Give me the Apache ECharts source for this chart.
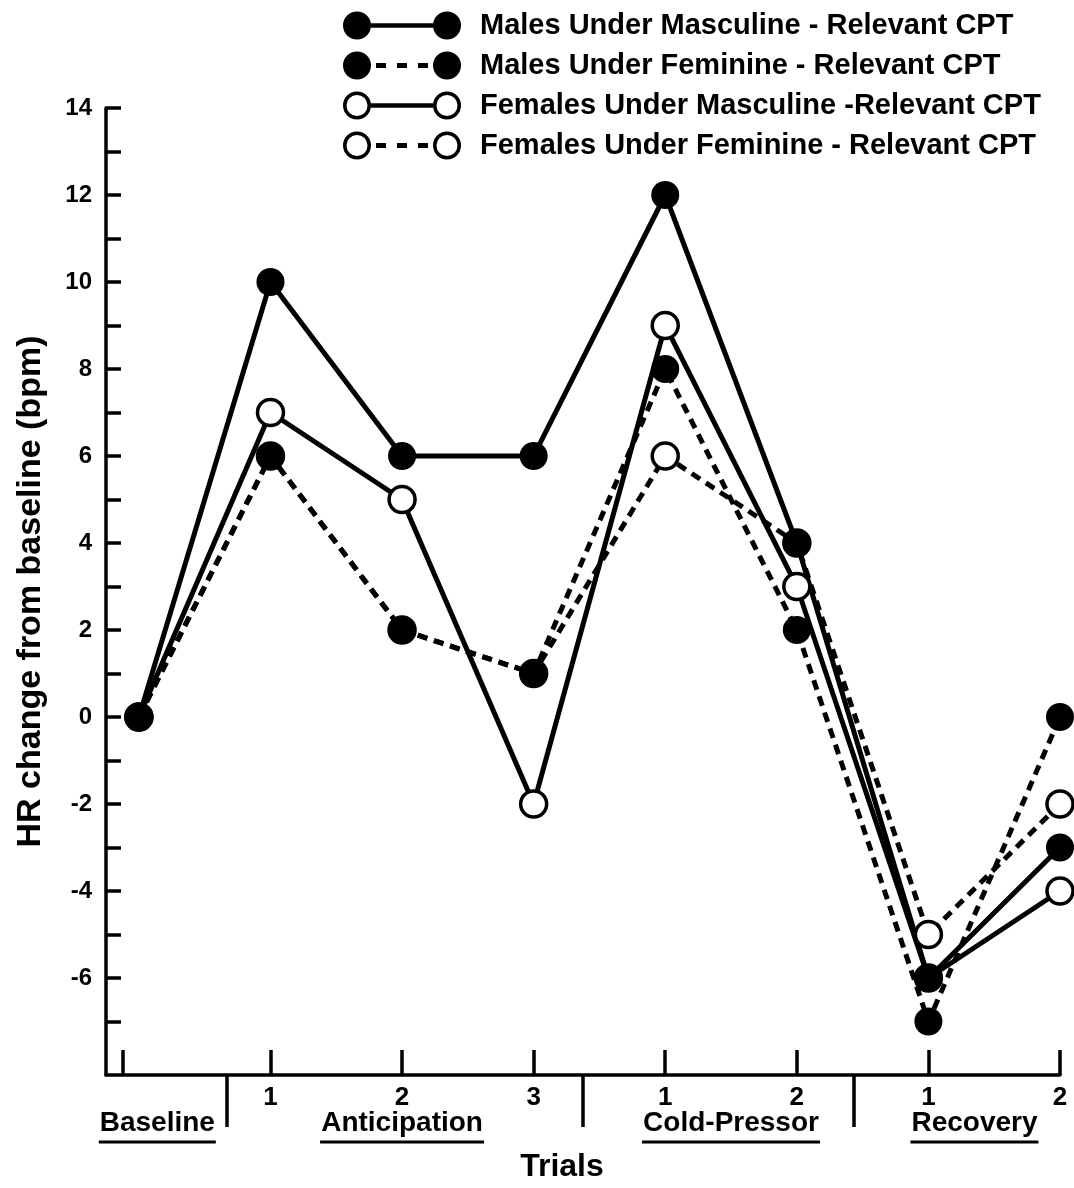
<!DOCTYPE html>
<html>
<head>
<meta charset="utf-8">
<script src="https://cdn.jsdelivr.net/npm/echarts@6/dist/echarts.min.js"></script>
<style>
  html, body { margin: 0; padding: 0; background: #fff; }
  #main { width: 1074px; height: 1188px; }
</style>
</head>
<body>
<div id="main"></div>
<script>
// x positions of the trials (baseline, anticipation 1-3, cold-pressor 1-2, recovery 1-2)
var trialX = [0, 1, 2, 3, 4, 5, 6, 7];
var trialNumbers = ['', '1', '2', '3', '1', '2', '1', '2'];
var trialTicks = [-0.12, 1, 2, 3, 4, 5, 6, 7];
var groupNames = ['Baseline', 'Anticipation', 'Cold-Pressor', 'Recovery'];
var groupCenters = [0.14, 2.0, 4.5, 6.35];
var groupBreaks = [0.67, 3.37, 5.43];
var yTicks = [-7, -6, -5, -4, -3, -2, -1, 0, 1, 2, 3, 4, 5, 6, 7, 8, 9, 10, 11, 12, 13, 14];
var yLabels = [-6, -4, -2, 0, 2, 4, 6, 8, 10, 12, 14];

var seriesNames = [
    'Males Under Masculine - Relevant CPT',
    'Males Under Feminine - Relevant CPT',
    'Females Under Masculine -Relevant CPT',
    'Females Under Feminine - Relevant CPT'
];
var malesMasc = [0, 10, 6, 6, 12, 4, -6, -3];
var malesFem = [0, 6, 2, 1, 8, 2, -7, 0];
var femalesMasc = [0, 7, 5, -2, 9, 3, -6, -4];
var femalesFem = [0, 6, 2, 1, 6, 4, -5, -2];

var FONT = '"Liberation Sans", Arial, Helvetica, sans-serif';
var GROUP_FONT_SIZE = 28;

function pairs(vals) {
    return vals.map(function (v, i) { return [trialX[i], v]; });
}

// legend icons: circle - line - circle, 118 x 28 box
var dotL = 'M0,14A14,14,0,1,1,28,14A14,14,0,1,1,0,14Z';
var dotR = 'M90,14A14,14,0,1,1,118,14A14,14,0,1,1,90,14Z';
var ringL = dotL + 'M3.5,14A10.5,10.5,0,1,0,24.5,14A10.5,10.5,0,1,0,3.5,14Z';
var ringR = dotR + 'M93.5,14A10.5,10.5,0,1,0,114.5,14A10.5,10.5,0,1,0,93.5,14Z';
var solidBar = 'M28,11.8L90,11.8L90,16.2L28,16.2Z';
var dashBars = 'M33,11.4L43,11.4L43,16.6L33,16.6Z M54,11.4L64,11.4L64,16.6L54,16.6Z M75,11.4L85,11.4L85,16.6L75,16.6Z';
var icons = [
    'path://' + dotL + solidBar + dotR,
    'path://' + dotL + dashBars + dotR,
    'path://' + ringL + solidBar + ringR,
    'path://' + ringL + dashBars + ringR
];

// underline widths follow the measured group label text
var measureCtx = document.createElement('canvas').getContext('2d');
measureCtx.font = 'bold ' + GROUP_FONT_SIZE + 'px ' + FONT;
var groupRich = {};
groupNames.forEach(function (n, i) {
    groupRich['t' + i] = { color: '#000', fontFamily: FONT, fontWeight: 'bold', fontSize: GROUP_FONT_SIZE, lineHeight: 33 };
    groupRich['u' + i] = { width: Math.round(measureCtx.measureText(n).width) + 2, height: 3, lineHeight: 4, fontSize: 2, backgroundColor: '#000' };
});

function makeSeries(name, vals, filled, dashed) {
    return {
        name: name,
        type: 'line',
        data: pairs(vals),
        symbol: 'circle',
        symbolSize: filled ? 28 : 26,
        lineStyle: { color: '#000', width: 5, type: dashed ? [10, 7] : 'solid' },
        itemStyle: filled ? { color: '#000' } : { color: '#fff', borderColor: '#000', borderWidth: 3.5 },
        emphasis: { disabled: true }
    };
}

var chart = echarts.init(document.getElementById('main'));
var option = {
    animation: false,
    backgroundColor: '#fff',
    legend: {
        orient: 'vertical',
        left: 338,
        top: 6,
        itemWidth: 118,
        itemHeight: 28,
        itemGap: 11,
        selectedMode: false,
        itemStyle: { color: '#000', borderWidth: 0 },
        textStyle: { color: '#000', fontFamily: FONT, fontWeight: 'bold', fontSize: 29, lineHeight: 28, padding: [0, 0, 0, 14] },
        data: seriesNames.map(function (n, i) { return { name: n, icon: icons[i] }; })
    },
    grid: { left: 106, right: 14, top: 108, bottom: 113, containLabel: false, outerBoundsMode: 'none' },
    xAxis: [{
        type: 'value',
        min: -0.25,
        max: 7,
        name: 'Trials',
        nameLocation: 'middle',
        nameGap: 76,
        nameTextStyle: { color: '#000', fontFamily: FONT, fontWeight: 'bold', fontSize: 32, padding: [0, 42, 0, 0] },
        axisLine: { onZero: false, lineStyle: { color: '#000', width: 3.5 } },
        axisTick: { inside: true, length: 25, customValues: trialTicks, lineStyle: { color: '#000', width: 3.5 } },
        axisLabel: {
            customValues: trialX.slice(1),
            margin: 10,
            hideOverlap: false,
            color: '#000', fontFamily: FONT, fontWeight: 'bold', fontSize: 26,
            formatter: function (v) { return trialNumbers[Math.round(v)]; }
        },
        splitLine: { show: false }
    }, {
        type: 'value',
        min: -0.25,
        max: 7,
        position: 'bottom',
        axisLine: { show: false, onZero: false },
        axisTick: { inside: false, length: 52, customValues: groupBreaks, lineStyle: { color: '#000', width: 3.5 } },
        axisLabel: {
            customValues: groupCenters,
            margin: 32,
            hideOverlap: false,
            showMinLabel: true,
            showMaxLabel: true,
            formatter: function (v) {
                var i = groupCenters.indexOf(v);
                return '{t' + i + '|' + groupNames[i] + '}\n{u' + i + '| }';
            },
            rich: groupRich
        },
        splitLine: { show: false }
    }],
    yAxis: {
        type: 'value',
        min: -8.23,
        max: 14,
        name: 'HR change from baseline (bpm)',
        nameLocation: 'middle',
        nameGap: 58,
        nameTextStyle: { color: '#000', fontFamily: FONT, fontWeight: 'bold', fontSize: 34 },
        axisLine: { onZero: false, lineStyle: { color: '#000', width: 3.5 } },
        axisTick: { inside: true, length: 15, customValues: yTicks, lineStyle: { color: '#000', width: 3.5 } },
        axisLabel: { customValues: yLabels, margin: 14, color: '#000', fontFamily: FONT, fontWeight: 'bold', fontSize: 24 },
        splitLine: { show: false }
    },
    series: [
        makeSeries(seriesNames[3], femalesFem, false, true),
        makeSeries(seriesNames[2], femalesMasc, false, false),
        makeSeries(seriesNames[1], malesFem, true, true),
        makeSeries(seriesNames[0], malesMasc, true, false)
    ]
};
chart.setOption(option);
window.addEventListener('resize', function () { chart.resize(); });
</script>
</body>
</html>
